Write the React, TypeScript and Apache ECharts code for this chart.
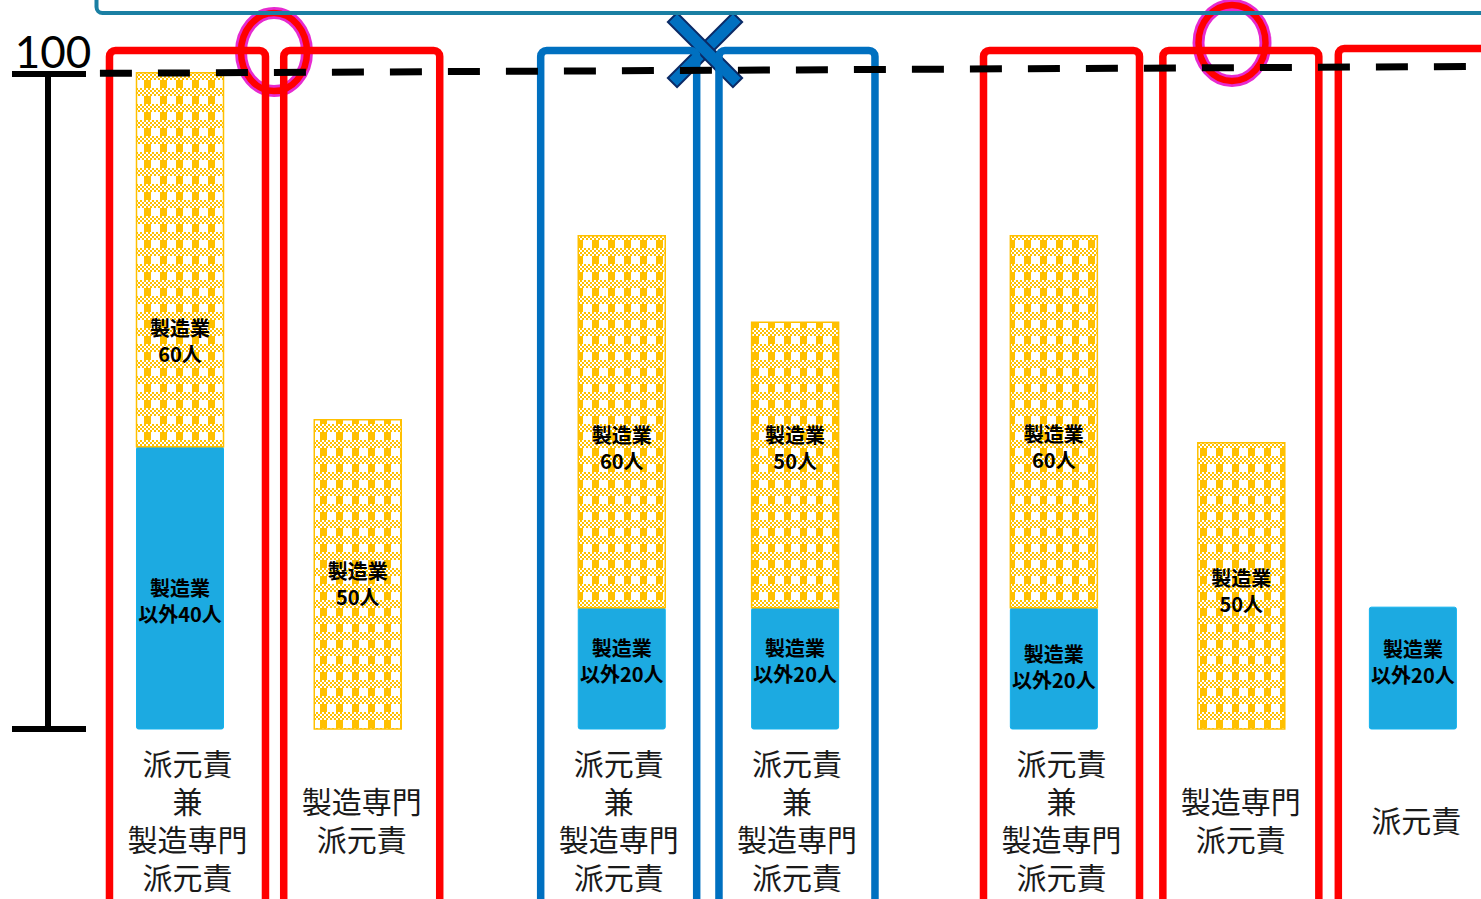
import React, { useEffect, useRef } from 'react';
import * as echarts from 'echarts';

// ---- data ----
const barX = [2.0, 4.02, 7.02, 8.99, 11.93, 14.06, 16.01];
const nonMfgValues: (number | null)[] = [43.1, null, 18.5, 18.5, 18.5, null, 18.6];
const mfgValues: (number | null)[] = [57.1, 47.2, 56.8, 43.6, 56.8, 43.7, null];
const mfgLabels = ['製造業\n60人', '製造業\n50人', '製造業\n60人', '製造業\n50人', '製造業\n60人', '製造業\n50人', ''];
const nonMfgLabels = ['製造業\n以外40人', '', '製造業\n以外20人', '製造業\n以外20人', '製造業\n以外20人', '', '製造業\n以外20人'];
const categoryLabels = [
  '派元責\n兼\n製造専門\n派元責',
  '製造専門\n派元責',
  '派元責\n兼\n製造専門\n派元責',
  '派元責\n兼\n製造専門\n派元責',
  '派元責\n兼\n製造専門\n派元責',
  '製造専門\n派元責',
  '派元責',
];
const frameX = [2.085, 4.065, 6.985, 9.011, 12.017, 14.055, 16.049];
const frameTop = [103.6, 103.6, 103.6, 103.6, 103.6, 103.6, 103.9];
const frameGroup = ['red', 'red', 'blue', 'blue', 'red', 'red', 'red'];
const yTicks = [0, 100];
const refLine = [
  [1.09, 100.1],
  [16.784, 101.15],
];

// ---- styles ----
const FRAME_COLORS: Record<string, string> = { red: '#FF0000', blue: '#0070C0' };
const mfgLabelOffsetY = [81, 9, 26, -18, 25, 5, 0];
const nonMfgLabelOffsetY = [13, 0, -8, -8, -2, 0, -7];
const BAR_W = 87;
const JP = '"Noto Sans CJK JP", "Noto Sans", sans-serif';

function makePattern(): string {
  const c = document.createElement('canvas');
  c.width = 16;
  c.height = 16;
  const ctx = c.getContext('2d')!;
  ctx.fillStyle = '#FFFFFF';
  ctx.fillRect(0, 0, 16, 16);
  ctx.fillStyle = '#FFC000';
  ctx.fillRect(0, 0, 7, 8);
  for (let y = 8; y < 16; y += 2) {
    for (let x = 0; x < 16; x += 2) {
      if (((x >> 1) + (y >> 1)) % 2 === 0) ctx.fillRect(x, y, 2, 2);
    }
  }
  return c.toDataURL();
}

export default function App() {
  const ref = useRef<HTMLDivElement>(null);
  useEffect(() => {
    if (!ref.current) return;
    const chart = echarts.init(ref.current, undefined, { renderer: 'svg' });
    const pattern = { image: makePattern(), repeat: 'repeat', imageWidth: 16, imageHeight: 16 };

    const labelText = (text: string, x: number, y: number) => ({
      type: 'text',
      x,
      y,
      z2: 10,
      style: {
        text,
        fontFamily: JP,
        fontWeight: 'bold',
        fontSize: 20,
        lineHeight: 26,
        align: 'center',
        verticalAlign: 'middle',
        fill: '#000',
      },
    });

    chart.setOption({
      animation: false,
      backgroundColor: '#fff',
      grid: { left: 48, right: 0, top: 74, bottom: 170 },
      xAxis: { type: 'value', min: 0.5, max: 16.784, show: false },
      yAxis: [
        {
          type: 'value',
          position: 'left',
          min: yTicks[0],
          max: yTicks[1],
          interval: 100,
          splitLine: { show: false },
          axisLine: { show: true, lineStyle: { color: '#000', width: 6 } },
          axisTick: { show: true, length: 36, lineStyle: { color: '#000', width: 6 } },
          axisLabel: {
            show: true,
            formatter: (v: number) => (v === yTicks[1] ? String(v) : ''),
            align: 'center',
            verticalAlign: 'bottom',
            margin: -5,
            lineHeight: 46,
            fontFamily: 'Lato, "DejaVu Sans", sans-serif',
            fontWeight: 400,
            fontSize: 44,
            color: '#000',
          },
        },
        {
          type: 'value',
          position: 'left',
          min: yTicks[0],
          max: yTicks[1],
          interval: 100,
          splitLine: { show: false },
          axisLine: { show: false },
          axisTick: { show: true, inside: true, length: 38, lineStyle: { color: '#000', width: 6 } },
          axisLabel: { show: false },
        },
      ],
      series: [
        {
          type: 'custom',
          name: 'frames',
          clip: false,
          silent: true,
          z: 1,
          data: frameX.map((x, i) => [x, frameTop[i]]),
          renderItem: (params: any, api: any) => {
            const i = params.dataIndex;
            const p = api.coord([api.value(0), api.value(1)]);
            const base = api.coord([api.value(0), 0]);
            return {
              type: 'group',
              children: [
                {
                  type: 'rect',
                  shape: { x: p[0] - 78, y: p[1], width: 156, height: 1000, r: 6 },
                  style: { fill: 'none', stroke: FRAME_COLORS[frameGroup[i]], lineWidth: 7.5 },
                },
                {
                  type: 'text',
                  x: p[0],
                  y: base[1] + 90,
                  style: {
                    text: categoryLabels[i],
                    fontFamily: JP,
                    fontSize: 30,
                    lineHeight: 38,
                    align: 'center',
                    verticalAlign: 'middle',
                    fill: '#1a1a1a',
                  },
                },
              ],
            };
          },
        },
        {
          type: 'custom',
          name: '製造業 / 製造業以外',
          clip: false,
          silent: true,
          z: 3,
          data: barX.map((x, i) => [x, nonMfgValues[i] ?? 0, mfgValues[i] ?? 0]),
          encode: { x: 0, y: [1, 2] },
          renderItem: (params: any, api: any) => {
            const i = params.dataIndex;
            const x = api.value(0);
            const b = api.value(1) || 0;
            const m = api.value(2) || 0;
            const p0 = api.coord([x, 0]);
            const p1 = api.coord([x, b]);
            const p2 = api.coord([x, b + m]);
            const children: any[] = [];
            if (b > 0) {
              children.push({
                type: 'rect',
                shape: { x: p0[0] - BAR_W / 2, y: p1[1], width: BAR_W, height: p0[1] - p1[1], r: 2 },
                style: { fill: '#1CAAE1', stroke: '#12B2EE', lineWidth: 1 },
              });
              if (nonMfgLabels[i])
                children.push(labelText(nonMfgLabels[i], p0[0], (p0[1] + p1[1]) / 2 + nonMfgLabelOffsetY[i]));
            }
            if (m > 0) {
              children.push({
                type: 'rect',
                shape: { x: p1[0] - BAR_W / 2, y: p2[1], width: BAR_W, height: p1[1] - p2[1] },
                style: { fill: pattern, stroke: '#FFC000', lineWidth: 1.5 },
              });
              if (mfgLabels[i])
                children.push(labelText(mfgLabels[i], p1[0], (p1[1] + p2[1]) / 2 + mfgLabelOffsetY[i]));
            }
            return { type: 'group', children };
          },
        },
        {
          type: 'line',
          name: '100',
          silent: true,
          clip: false,
          z: 5,
          symbol: 'none',
          data: refLine,
          lineStyle: { color: '#000', width: 7, type: [32, 26] },
        },
      ],
      graphic: [
        {
          type: 'rect',
          z: 50,
          silent: true,
          shape: { x: 96.5, y: -60, width: 1500, height: 73, r: 6 },
          style: { fill: 'none', stroke: '#1A7FA3', lineWidth: 4 },
        },
        {
          type: 'group',
          x: 274,
          y: 52,
          z: 60,
          children: [
            { type: 'ellipse', shape: { cx: 0, cy: 0, rx: 33, ry: 39 }, style: { fill: 'none', stroke: '#E62AD0', lineWidth: 12 } },
            { type: 'ellipse', shape: { cx: 0, cy: 0, rx: 33, ry: 39 }, style: { fill: 'none', stroke: '#FF0000', lineWidth: 6.5 } },
          ],
        },
        {
          type: 'group',
          x: 1232,
          y: 43,
          z: 60,
          children: [
            { type: 'ellipse', shape: { cx: 0, cy: 0, rx: 33.5, ry: 38 }, style: { fill: 'none', stroke: '#E62AD0', lineWidth: 12 } },
            { type: 'ellipse', shape: { cx: 0, cy: 0, rx: 33.5, ry: 38 }, style: { fill: 'none', stroke: '#FF0000', lineWidth: 6.5 } },
          ],
        },
        {
          type: 'group',
          x: 705,
          y: 50,
          z: 60,
          children: [
            { type: 'rect', rotation: Math.PI / 4, shape: { x: -46, y: -6.5, width: 92, height: 13 }, style: { fill: '#0070C0', stroke: '#0B2A66', lineWidth: 2 } },
            { type: 'rect', rotation: -Math.PI / 4, shape: { x: -46, y: -6.5, width: 92, height: 13 }, style: { fill: '#0070C0', stroke: '#0B2A66', lineWidth: 2 } },
          ],
        },
      ],
    });
    return () => chart.dispose();
  }, []);

  return (
    <div
      ref={ref}
      style={{ position: 'fixed', left: 0, top: 0, width: 1481, height: 899, background: '#fff' }}
    />
  );
}
